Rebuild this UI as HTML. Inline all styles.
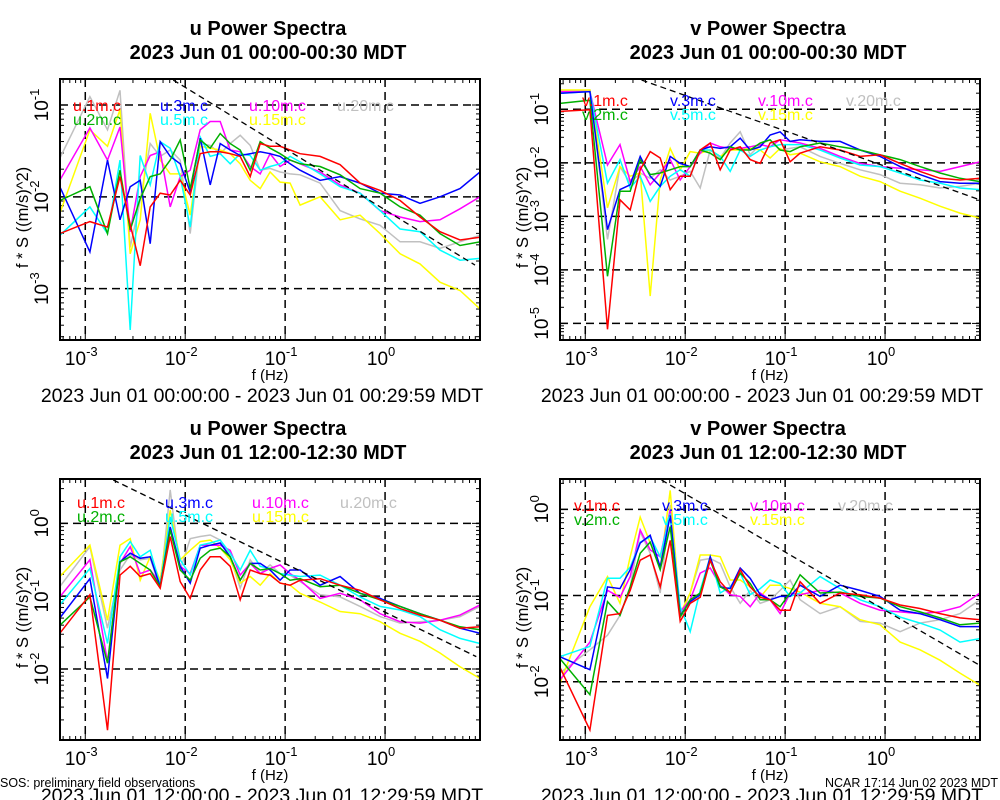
<!DOCTYPE html>
<html><head><meta charset="utf-8"><style>
html,body{margin:0;padding:0;background:#fff;}
svg{display:block;font-family:"Liberation Sans",sans-serif;}
</style></head><body>
<svg id="chart" width="1000" height="800" viewBox="0 0 1000 800" xmlns="http://www.w3.org/2000/svg">
<rect width="1000" height="800" fill="#fff"/>
<text x="0" y="787" font-size="12.5">SOS: preliminary field observations</text>
<text x="998" y="787" font-size="12.5" text-anchor="end">NCAR 17:14 Jun 02 2023 MDT</text>
</svg>
<script>
// shared log10 frequency grid (Hz)
const freqLog = [-3.255,-2.954,-2.778,-2.653,-2.55,-2.45,-2.35,-2.25,-2.15,-2.05,-1.95,-1.85,-1.75,-1.65,-1.55,-1.45,-1.35,-1.25,-1.15,-1.05,-0.95,-0.85,-0.65,-0.45,-0.25,-0.05,0.15,0.35,0.55,0.75,0.95];
const seriesNames = ['1m.c','2m.c','3m.c','5m.c','10m.c','15m.c','20m.c'];
// panel 1: u, 00:00-00:30  (log10 of f*S)
const p1_1m = [-2.40,-2.27,-2.33,-1.78,-2.30,-2.75,-2.11,-1.96,-1.98,-1.82,-1.98,-1.53,-1.51,-1.51,-1.53,-1.56,-1.78,-1.42,-1.45,-1.45,-1.49,-1.53,-1.56,-1.65,-1.85,-1.93,-2.04,-2.22,-2.38,-2.47,-2.44];
const p1_2m = [-2.04,-1.89,-2.40,-1.71,-2.36,-2.02,-1.78,-1.75,-1.60,-1.38,-1.91,-1.38,-1.47,-1.31,-1.42,-1.49,-1.71,-1.40,-1.47,-1.53,-1.60,-1.64,-1.67,-1.76,-1.91,-1.96,-2.11,-2.20,-2.40,-2.53,-2.49];
const p1_3m = [-1.89,-2.60,-1.60,-2.25,-1.89,-1.82,-2.51,-1.40,-1.56,-1.64,-1.95,-1.36,-1.87,-1.42,-1.49,-1.55,-1.53,-1.51,-1.53,-1.56,-1.64,-1.71,-1.82,-1.78,-1.85,-1.96,-1.98,-2.07,-2.00,-1.91,-1.73];
const p1_5m = [-2.42,-2.11,-2.40,-1.60,-3.45,-1.55,-1.87,-1.40,-1.47,-1.78,-2.33,-1.35,-1.56,-1.53,-1.64,-1.53,-1.55,-1.71,-1.67,-1.64,-1.56,-1.62,-1.75,-1.89,-1.96,-2.15,-2.35,-2.38,-2.58,-2.69,-2.67];
const p1_10m = [-1.82,-1.25,-1.60,-1.24,-2.38,-1.78,-1.55,-1.51,-2.11,-1.78,-1.71,-1.27,-1.18,-1.18,-1.49,-1.51,-1.67,-1.75,-1.53,-1.67,-1.60,-1.64,-1.73,-1.87,-1.96,-2.15,-2.22,-2.27,-2.25,-2.13,-2.00];
const p1_15m = [-2.18,-1.27,-1.45,-1.05,-2.62,-2.25,-1.09,-1.60,-1.75,-1.75,-2.20,-1.45,-1.47,-1.49,-1.53,-1.64,-1.82,-1.91,-1.73,-1.84,-1.85,-2.09,-2.00,-2.25,-2.20,-2.40,-2.62,-2.73,-2.93,-3.02,-3.22];
const p1_20m = [-1.58,-0.91,-1.27,-0.84,-2.55,-2.04,-1.42,-1.56,-1.49,-1.60,-2.40,-1.42,-1.44,-1.53,-1.42,-1.33,-1.44,-1.71,-1.69,-1.73,-1.75,-1.76,-1.85,-2.15,-2.24,-2.31,-2.49,-2.49,-2.56,-2.49,-2.42];
// panel 2: v, 00:00-00:30
const p2_1m = [-1.04,-1.01,-5.11,-2.69,-2.88,-2.13,-1.79,-1.91,-2.50,-2.25,-2.25,-1.76,-1.63,-2.13,-1.76,-1.70,-1.94,-2.01,-1.63,-1.57,-1.98,-1.82,-1.70,-1.76,-1.88,-1.85,-2.01,-2.16,-2.29,-2.32,-2.29];
const p2_2m = [-0.89,-0.83,-4.12,-2.53,-2.53,-1.94,-2.22,-2.19,-2.13,-2.07,-2.07,-1.76,-1.82,-1.94,-1.70,-1.76,-1.76,-1.63,-1.57,-1.76,-1.79,-1.70,-1.63,-1.70,-1.76,-1.85,-1.94,-2.07,-2.19,-2.29,-2.35];
const p2_3m = [-0.70,-0.67,-3.25,-2.50,-2.41,-1.88,-2.25,-2.44,-1.88,-2.01,-2.07,-1.76,-1.70,-1.73,-1.70,-1.54,-1.76,-1.70,-1.48,-1.42,-1.60,-1.57,-1.60,-1.60,-1.76,-1.88,-2.07,-2.22,-2.35,-2.38,-2.38];
const p2_5m = [-0.70,-0.67,-2.38,-1.94,-2.47,-2.25,-2.72,-2.44,-2.25,-2.13,-2.25,-1.76,-1.76,-1.88,-2.16,-1.76,-1.88,-1.76,-1.70,-1.66,-1.66,-1.66,-1.76,-1.91,-2.04,-2.07,-2.19,-2.32,-2.38,-2.47,-2.50];
const p2_10m = [-0.67,-0.67,-2.04,-1.66,-2.35,-2.07,-2.41,-2.19,-1.94,-2.32,-2.07,-1.82,-1.63,-1.70,-1.73,-1.73,-1.70,-1.66,-1.70,-1.57,-1.60,-1.63,-1.73,-1.88,-2.01,-2.07,-2.10,-2.13,-2.16,-2.07,-1.98];
const p2_15m = [-0.64,-0.64,-2.84,-2.07,-2.25,-2.19,-4.49,-2.32,-1.73,-2.13,-1.79,-1.82,-1.76,-1.88,-1.76,-1.76,-1.73,-1.76,-1.91,-1.73,-1.85,-1.82,-1.98,-2.07,-2.25,-2.35,-2.53,-2.66,-2.81,-2.94,-3.03];
const p2_20m = [-0.67,-0.64,-3.43,-2.07,-2.38,-2.19,-2.29,-2.13,-2.32,-2.25,-2.16,-2.47,-1.76,-1.91,-1.63,-1.42,-1.85,-1.66,-1.57,-1.76,-1.73,-1.70,-1.88,-2.01,-2.13,-2.22,-2.38,-2.41,-2.47,-2.44,-2.38];
// panel 3: u, 12:00-12:30
const p3_1m = [-1.51,-0.98,-2.84,-0.71,-0.59,-0.73,-0.69,-0.89,-0.18,-0.80,-1.03,-0.64,-0.46,-0.46,-0.59,-1.05,-0.64,-0.69,-0.71,-0.82,-0.85,-0.78,-0.76,-0.85,-0.92,-1.05,-1.17,-1.26,-1.33,-1.44,-1.42];
const p3_2m = [-1.40,-1.01,-1.92,-0.53,-0.46,-0.55,-0.64,-0.87,-0.09,-0.64,-0.78,-0.48,-0.37,-0.34,-0.46,-0.78,-0.55,-0.64,-0.62,-0.69,-0.78,-0.76,-0.87,-0.85,-0.96,-1.05,-1.14,-1.24,-1.33,-1.42,-1.46];
const p3_3m = [-1.30,-0.76,-2.13,-0.53,-0.41,-0.48,-0.46,-0.87,-0.05,-0.59,-0.82,-0.34,-0.30,-0.27,-0.46,-0.78,-0.55,-0.55,-0.64,-0.78,-0.64,-0.64,-0.85,-0.73,-0.96,-1.03,-1.14,-1.24,-1.33,-1.44,-1.51];
const p3_5m = [-1.12,-0.62,-1.65,-0.46,-0.25,-0.46,-0.37,-0.85,0.09,-0.50,-0.71,-0.30,-0.27,-0.23,-0.41,-0.64,-0.37,-0.59,-0.62,-0.69,-0.71,-0.73,-0.71,-0.85,-1.01,-1.14,-1.19,-1.28,-1.46,-1.58,-1.65];
const p3_10m = [-1.01,-0.50,-1.90,-0.55,-0.32,-0.69,-0.64,-0.82,-0.05,-0.59,-0.69,-0.30,-0.30,-0.30,-0.37,-0.71,-0.55,-0.69,-0.62,-0.57,-0.69,-0.78,-1.03,-0.96,-1.05,-1.24,-1.35,-1.37,-1.33,-1.26,-1.12];
const p3_15m = [-0.73,-0.30,-1.33,-0.30,-0.21,-0.78,-0.46,-0.78,0.18,-0.50,-0.37,-0.25,-0.23,-0.34,-0.50,-0.82,-0.73,-0.85,-0.69,-0.82,-0.85,-0.96,-1.08,-1.21,-1.24,-1.35,-1.51,-1.62,-1.78,-1.97,-2.13];
const p3_20m = [-0.87,-0.32,-1.44,-0.64,-0.43,-0.50,-0.48,-0.89,0.46,-0.64,-0.21,-0.18,-0.16,-0.23,-0.46,-0.89,-0.50,-0.69,-0.57,-0.69,-0.71,-0.80,-0.98,-1.01,-1.14,-1.28,-1.37,-1.35,-1.33,-1.28,-1.14];
// panel 4: v, 12:00-12:30
const p4_1m = [-1.83,-2.56,-1.23,-1.21,-0.94,-0.59,-0.53,-0.90,-0.36,-1.30,-1.09,-1.02,-0.59,-0.84,-0.97,-0.70,-0.90,-1.02,-1.05,-1.17,-1.17,-0.84,-1.09,-0.97,-0.99,-1.03,-1.11,-1.15,-1.21,-1.26,-1.28];
const p4_2m = [-1.73,-2.15,-1.07,-1.23,-0.90,-0.51,-0.38,-0.70,-0.20,-1.25,-1.05,-0.97,-0.59,-0.90,-0.96,-0.74,-0.86,-1.05,-1.05,-1.13,-0.97,-0.76,-0.97,-0.96,-1.01,-1.03,-1.13,-1.19,-1.26,-1.34,-1.32];
const p4_3m = [-1.71,-1.86,-0.90,-0.92,-0.70,-0.39,-0.30,-0.67,-0.07,-1.23,-1.07,-0.99,-0.55,-0.90,-0.92,-0.68,-0.80,-0.99,-1.05,-1.01,-1.01,-0.88,-1.01,-0.88,-0.94,-1.01,-1.17,-1.21,-1.28,-1.36,-1.36];
const p4_5m = [-1.71,-1.59,-0.80,-0.80,-0.67,-0.38,-0.32,-0.55,-0.05,-1.13,-1.42,-0.94,-0.55,-0.97,-0.90,-0.74,-0.99,-0.92,-0.82,-0.86,-1.01,-0.97,-0.78,-0.92,-1.05,-1.13,-1.25,-1.32,-1.40,-1.54,-1.50];
const p4_10m = [-1.98,-1.54,-0.94,-1.02,-0.78,-0.24,-0.47,-0.55,-0.01,-1.19,-1.05,-0.74,-0.68,-0.88,-0.99,-1.01,-1.13,-0.97,-1.05,-1.21,-0.97,-0.99,-0.94,-0.97,-1.09,-1.17,-1.19,-1.21,-1.19,-1.13,-0.97];
const p4_15m = [-2.02,-1.13,-0.78,-1.09,-0.55,-0.09,-0.39,-0.68,0.22,-1.21,-0.97,-0.53,-0.53,-0.55,-0.82,-0.82,-0.90,-1.02,-0.88,-0.88,-0.92,-0.96,-1.09,-1.13,-1.28,-1.34,-1.54,-1.63,-1.75,-1.90,-2.04];
const p4_20m = [-1.90,-1.63,-1.46,-1.23,-0.90,-0.26,-0.51,-0.97,0.05,-1.25,-0.97,-0.59,-0.57,-0.63,-0.90,-1.09,-0.94,-1.09,-1.05,-0.94,-0.82,-1.05,-1.21,-1.13,-1.30,-1.32,-1.42,-1.32,-1.28,-1.21,-1.05];
// reference -2/3 slope lines: [logf0, logS0, logf1, logS1]
const ref1 = [-2.12,-0.728,0.90,-2.743];
const ref2 = [-2.437,-0.453,0.947,-2.69];
const ref3 = [-2.72,0.595,0.913,-1.83];
const ref4 = [-2.237,0.34,0.947,-1.81];
const xTicks = [-3,-2,-1,0];
const yTicks1 = [-1,-2,-3];
const yTicks2 = [-1,-2,-3,-4,-5];
const yTicks3 = [0,-1,-2];
const yTicks4 = [0,-1,-2];

const colors = {'1m.c':'#ff0000','2m.c':'#00b000','3m.c':'#0000ff','5m.c':'#00ffff','10m.c':'#ff00ff','15m.c':'#ffff00','20m.c':'#c0c0c0'};
const drawOrder = ['20m.c','15m.c','10m.c','5m.c','3m.c','2m.c','1m.c'];
const NS='http://www.w3.org/2000/svg';
const svg=document.getElementById('chart');
function mk(tag,attrs,parent){const e=document.createElementNS(NS,tag);for(const k in attrs)e.setAttribute(k,attrs[k]);(parent||svg).appendChild(e);return e;}

const panels=[
 {id:'p1',comp:'u',x0:60,x1:480,y0:79,y1:340,ymax:-0.717,ymin:-3.559,title:'u Power Spectra',sub:'2023 Jun 01 00:00-00:30 MDT',range:'2023 Jun 01 00:00:00 - 2023 Jun 01 00:29:59 MDT',yt:yTicks1,ref:ref1,data:[p1_1m,p1_2m,p1_3m,p1_5m,p1_10m,p1_15m,p1_20m],leg:[73,160,249,337],ly:105},
 {id:'p2',comp:'v',x0:560,x1:980,y0:79,y1:340,ymax:-0.434,ymin:-5.31,title:'v Power Spectra',sub:'2023 Jun 01 00:00-00:30 MDT',range:'2023 Jun 01 00:00:00 - 2023 Jun 01 00:29:59 MDT',yt:yTicks2,ref:ref2,data:[p2_1m,p2_2m,p2_3m,p2_5m,p2_10m,p2_15m,p2_20m],leg:[582,670,758,846],ly:100},
 {id:'p3',comp:'u',x0:60,x1:480,y0:479,y1:740,ymax:0.609,ymin:-2.975,title:'u Power Spectra',sub:'2023 Jun 01 12:00-12:30 MDT',range:'2023 Jun 01 12:00:00 - 2023 Jun 01 12:29:59 MDT',yt:yTicks3,ref:ref3,data:[p3_1m,p3_2m,p3_3m,p3_5m,p3_10m,p3_15m,p3_20m],leg:[77,165,252,340],ly:502},
 {id:'p4',comp:'v',x0:560,x1:980,y0:479,y1:740,ymax:0.352,ymin:-2.676,title:'v Power Spectra',sub:'2023 Jun 01 12:00-12:30 MDT',range:'2023 Jun 01 12:00:00 - 2023 Jun 01 12:29:59 MDT',yt:yTicks4,ref:ref4,data:[p4_1m,p4_2m,p4_3m,p4_5m,p4_10m,p4_15m,p4_20m],leg:[574,662,750,838],ly:505}
];
const XMIN=-3.253, XMAX=0.95;
const defs=mk('defs',{});
panels.forEach(p=>{
 const X=v=>p.x0+(v-XMIN)/(XMAX-XMIN)*(p.x1-p.x0);
 const Y=v=>p.y0+(p.ymax-v)/(p.ymax-p.ymin)*(p.y1-p.y0);
 const cx=(p.x0+p.x1)/2;
 const g=mk('g',{});
 
 
 const cp=mk('clipPath',{id:'clip-'+p.id},defs);
 mk('rect',{x:p.x0,y:p.y0,width:p.x1-p.x0,height:p.y1-p.y0},cp);
 let t=mk('text',{x:cx-2,y:p.y0-44,'font-size':20,'font-weight':'bold','text-anchor':'middle'},g);t.textContent=p.title;
 
 t=mk('text',{x:cx-2,y:p.y0-20,'font-size':20,'font-weight':'bold','text-anchor':'middle'},g);t.textContent=p.sub;
 
 xTicks.forEach(v=>{const l=mk('line',{x1:X(v),x2:X(v),y1:p.y0,y2:p.y1,stroke:'#000','stroke-width':1.5,'stroke-dasharray':'8,5'},g);
  });
 p.yt.forEach(v=>{const l=mk('line',{x1:p.x0,x2:p.x1,y1:Y(v),y2:Y(v),stroke:'#000','stroke-width':1.5,'stroke-dasharray':'8,5'},g);
  });
 for(let d=-4;d<=1;d++){for(let m=1;m<=9;m++){const v=d+Math.log10(m);if(v<XMIN||v>XMAX)continue;const len=m===1?8:4;
  mk('line',{x1:X(v),x2:X(v),y1:p.y1,y2:p.y1-len,stroke:'#000'},g);mk('line',{x1:X(v),x2:X(v),y1:p.y0,y2:p.y0+len,stroke:'#000'},g);}}
 for(let d=-6;d<=1;d++){for(let m=1;m<=9;m++){const v=d+Math.log10(m);if(v<p.ymin||v>p.ymax)continue;const len=m===1?8:4;
  mk('line',{x1:p.x0,x2:p.x0+len,y1:Y(v),y2:Y(v),stroke:'#000'},g);mk('line',{x1:p.x1,x2:p.x1-len,y1:Y(v),y2:Y(v),stroke:'#000'},g);}}
 xTicks.forEach(v=>{const tx=mk('text',{x:X(v)-4,y:p.y1+25,'font-size':19,'text-anchor':'middle'},g);tx.textContent='10';
  
  const sp=mk('tspan',{'font-size':13,dy:-9},tx);sp.textContent=String(v);});
 p.yt.forEach(v=>{const tx=mk('text',{transform:`translate(${p.x0-12},${Y(v)}) rotate(-90)`,'font-size':19,'text-anchor':'middle'},g);tx.textContent='10';
  
  const sp=mk('tspan',{'font-size':13,dy:-9},tx);sp.textContent=String(v);});
 t=mk('text',{x:cx,y:p.y1+40,'font-size':15,'text-anchor':'middle'},g);t.textContent='f (Hz)';
 
 t=mk('text',{transform:`translate(${p.x0-32},${(p.y0+p.y1)/2+8}) rotate(-90)`,'font-size':16.5,'text-anchor':'middle'},g);t.textContent='f * S ((m/s)^2)';
 
 t=mk('text',{x:cx-8,y:p.y1+62,'font-size':19.5,'text-anchor':'middle'},g);t.textContent=p.range;
 
 const sg=mk('g',{'clip-path':`url(#clip-${p.id})`},g);
 drawOrder.forEach(nm=>{const i=seriesNames.indexOf(nm);const arr=p.data[i];
  const pts=arr.map((v,k)=>X(freqLog[k]).toFixed(1)+','+Y(v).toFixed(1)).join(' ');
  const pl=mk('polyline',{points:pts,fill:'none',stroke:colors[nm],'stroke-width':1.5,'stroke-linejoin':'miter'},sg);
  });
 const r=p.ref;const rl=mk('line',{x1:X(r[0]),y1:Y(r[1]),x2:X(r[2]),y2:Y(r[3]),stroke:'#000','stroke-width':1.3,'stroke-dasharray':'6,4'},sg);
 
 const lo=[['1m.c','2m.c'],['3m.c','5m.c'],['10m.c','15m.c'],['20m.c',null]];
 lo.forEach((col,ci)=>col.forEach((nm,ri)=>{if(!nm)return;const lt=mk('text',{x:p.leg[ci],y:p.ly+6+ri*14,'font-size':16,fill:colors[nm]},g);
  lt.textContent=p.comp+'.'+nm;}));
 const bx=mk('rect',{x:p.x0,y:p.y0,width:p.x1-p.x0,height:p.y1-p.y0,fill:'none',stroke:'#000','stroke-width':2},g);
 
});
</script>
</body></html>
